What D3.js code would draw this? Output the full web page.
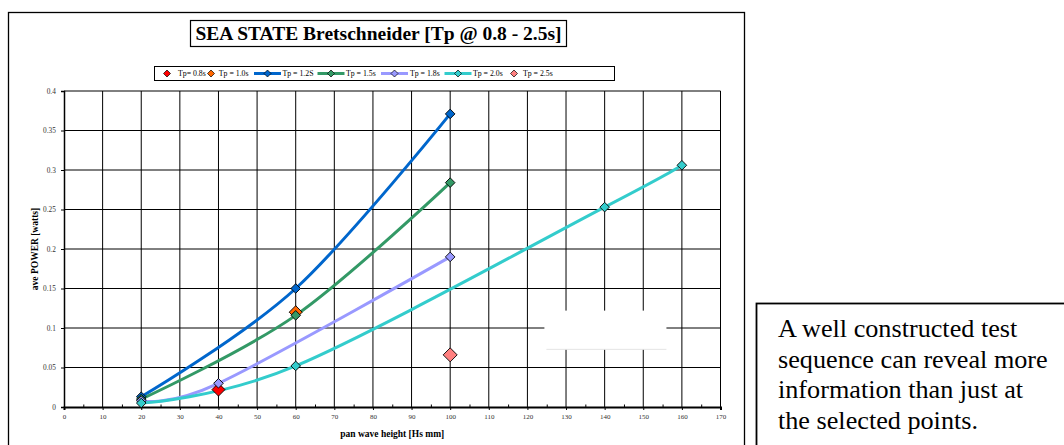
<!DOCTYPE html>
<html><head><meta charset="utf-8">
<script src="https://cdn.jsdelivr.net/npm/d3@7"></script>
<style>body{margin:0;background:#fff}svg{display:block}</style>
</head><body><svg id="c" width="1064" height="445" font-family="'Liberation Serif','Times New Roman',serif"></svg>
<script>
const xTicks = d3.range(0, 171, 10);
const yTicks = [0, 0.05, 0.1, 0.15, 0.2, 0.25, 0.3, 0.35, 0.4];
const seriesNames = ["Tp= 0.8s", "Tp = 1.0s", "Tp = 1.2S", "Tp = 1.5s", "Tp = 1.8s", "Tp = 2.0s", "Tp = 2.5s"];
const seriesColors = ["#FF0000", "#FF6600", "#0066CC", "#339966", "#9999FF", "#33CCCC", "#FF8080"];
const seriesHasLine = [false, false, true, true, true, true, false];
const seriesMarkerSize = [6.5, 6.5, 4.8, 4.8, 4.8, 4.8, 7];
const tp08 = [[40, 0.022]];
const tp10 = [[60, 0.12]];
const tp12 = [[20, 0.013], [60, 0.15], [100, 0.371]];
const tp15 = [[20, 0.010], [60, 0.116], [100, 0.284]];
const tp18 = [[20, 0.008], [40, 0.030], [100, 0.190]];
const tp20 = [[20, 0.005], [60, 0.052], [140, 0.253], [160, 0.306]];
const tp25 = [[100, 0.066]];
const seriesData = [tp08, tp10, tp12, tp15, tp18, tp20, tp25];
const title = "SEA STATE Bretschneider [Tp @ 0.8 - 2.5s]";
const xTitle = "pan wave height [Hs mm]";
const yTitle = "ave POWER [watts]";
const noteLines = ["A well constructed test", "sequence can reveal more", "information than just at", "the selected points."];
const blankBox = {x0: 124.4, x1: 156, y0: 0.073, y1: 0.122};

const svg = d3.select("#c");
const x = d3.scaleLinear().domain([0, 170]).range([64, 720.5]);
const y = d3.scaleLinear().domain([0, 0.4]).range([407, 91]);

// outer chart frame
svg.append("rect").attr("x", 8.5).attr("y", 12.5).attr("width", 736).attr("height", 445)
  .attr("fill", "none").attr("stroke", "#000").attr("stroke-width", 1.3);

// grid
const g = svg.append("g");
g.selectAll("line.v").data(xTicks.slice(1)).join("line")
  .attr("x1", d => x(d)).attr("x2", d => x(d)).attr("y1", y(0)).attr("y2", y(0.4))
  .attr("stroke", "#000").attr("stroke-width", 1);
g.selectAll("line.h").data(yTicks.slice(1)).join("line")
  .attr("x1", x(0)).attr("x2", x(170)).attr("y1", d => y(d)).attr("y2", d => y(d))
  .attr("stroke", "#000").attr("stroke-width", 1);

// blank white box hiding part of the grid
svg.append("rect").attr("x", x(blankBox.x0)).attr("y", y(blankBox.y1))
  .attr("width", x(blankBox.x1) - x(blankBox.x0)).attr("height", y(blankBox.y0) - y(blankBox.y1))
  .attr("fill", "#fff");
svg.append("line").attr("x1", x(blankBox.x0) + 2).attr("x2", x(blankBox.x1)).attr("y1", y(blankBox.y0)).attr("y2", y(blankBox.y0))
  .attr("stroke", "#e4e4e4").attr("stroke-width", 1);

// axes
const xAxis = d3.axisBottom(x).tickValues(xTicks).tickSize(3).tickFormat(d3.format("d"));
const xg = svg.append("g").attr("transform", `translate(0,${y(0)})`).call(xAxis);
xg.attr("font-family", null);
xg.select(".domain").attr("stroke-width", 2);
xg.selectAll("text").attr("font-size", 7).attr("fill", "#333").attr("dy", "0.9em");
const xMinor = svg.append("g").attr("transform", `translate(0,${y(0)})`)
  .call(d3.axisBottom(x).tickValues(d3.range(5, 170, 10)).tickSize(-2.5).tickFormat(""));
xMinor.select(".domain").remove();

const yAxis = d3.axisLeft(y).tickValues(yTicks).tickSize(3).tickFormat(d => d3.format("")(+d.toFixed(2)));
const yg = svg.append("g").attr("transform", `translate(${x(0)},0)`).call(yAxis);
yg.attr("font-family", null);
yg.select(".domain").attr("stroke-width", 1.5);
yg.selectAll("text").attr("font-size", 7.3).attr("fill", "#333").attr("dx", "-0.3em");

// axis titles
svg.append("text").attr("x", (x(0) + x(170)) / 2).attr("y", 437).attr("text-anchor", "middle")
  .attr("font-size", 9.5).attr("font-weight", "bold").text(xTitle);
svg.append("text").attr("transform", `translate(38,${(y(0) + y(0.4)) / 2}) rotate(-90)`).attr("text-anchor", "middle")
  .attr("font-size", 9.5).attr("font-weight", "bold").text(yTitle);

// lines
const line = d3.line().x(d => x(d[0])).y(d => y(d[1])).curve(d3.curveCardinal.tension(0));
seriesData.forEach((data, i) => {
  if (!seriesHasLine[i]) return;
  svg.append("path").datum(data).attr("d", line).attr("fill", "none")
    .attr("stroke", seriesColors[i]).attr("stroke-width", 3).attr("stroke-linejoin", "round");
});
// markers
const diamond = (cx, cy, r) => `M${cx},${cy - r}L${cx + r},${cy}L${cx},${cy + r}L${cx - r},${cy}Z`;
seriesData.forEach((data, i) => {
  svg.append("g").selectAll("path").data(data).join("path")
    .attr("d", d => diamond(x(d[0]), y(d[1]), seriesMarkerSize[i]))
    .attr("fill", seriesColors[i]).attr("stroke", "#000").attr("stroke-width", 0.9);
});

// title box
const tb = svg.append("g");
tb.append("rect").attr("x", 190.5).attr("y", 20.5).attr("width", 376).attr("height", 26)
  .attr("fill", "#fff").attr("stroke", "#000").attr("stroke-width", 1.2);
tb.append("text").attr("x", 378.5).attr("y", 40).attr("text-anchor", "middle")
  .attr("font-size", 19.5).attr("font-weight", "bold").text(title);

// legend
const lg = svg.append("g");
lg.append("rect").attr("x", 154.5).attr("y", 66.5).attr("width", 460).attr("height", 14)
  .attr("fill", "#fff").attr("stroke", "#000").attr("stroke-width", 1);
const legX = [167, 211, 267.5, 331, 394.5, 458, 514];
const legTextX = [178, 218.8, 282.5, 346, 410, 473, 523];
seriesNames.forEach((name, i) => {
  const cy = 73.5;
  if (seriesHasLine[i]) {
    lg.append("line").attr("x1", legX[i] - 13.5).attr("x2", legX[i] + 13.5).attr("y1", cy).attr("y2", cy)
      .attr("stroke", seriesColors[i]).attr("stroke-width", 3);
  }
  lg.append("path").attr("d", diamond(legX[i], cy, 3.5)).attr("fill", seriesColors[i])
    .attr("stroke", "#000").attr("stroke-width", 0.7);
  lg.append("text").attr("x", legTextX[i]).attr("y", cy + 2.8).attr("font-size", 7.8).text(name);
});

// note text box
const nb = svg.append("g");
nb.append("rect").attr("x", 756.5).attr("y", 303.5).attr("width", 320).attr("height", 160)
  .attr("fill", "#fff").attr("stroke", "#000").attr("stroke-width", 1.8);
nb.selectAll("text").data(noteLines).join("text")
  .attr("x", 778).attr("y", (d, i) => 337 + i * 30.7).attr("font-size", 26.2).text(d => d);
</script></body></html>
